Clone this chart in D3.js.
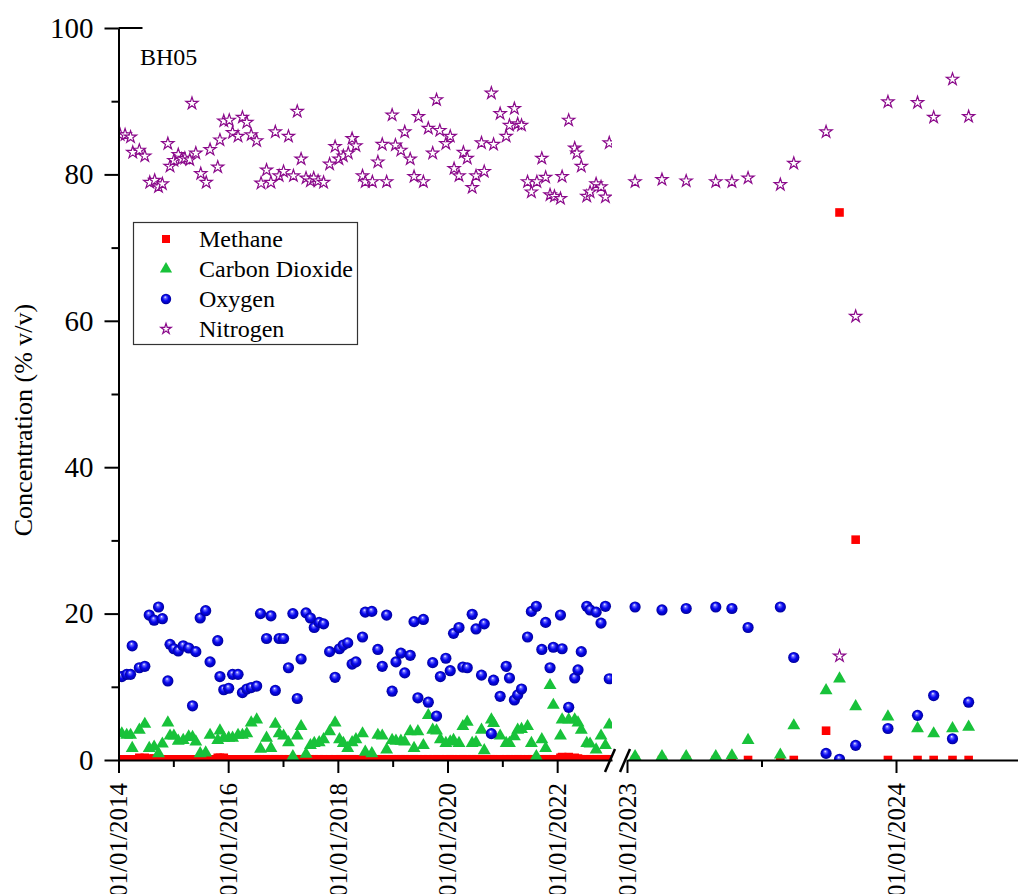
<!DOCTYPE html>
<html>
<head>
<meta charset="utf-8">
<script src="https://cdn.jsdelivr.net/npm/d3@7"></script>
<style>
  body { margin: 0; background: #fff; }
  text { font-family: "Liberation Serif", "Times New Roman", serif; fill: #000; }
</style>
</head>
<body>
<svg id="chart"></svg>
<script>
// sampling dates (decimal years) for the 2014-2022 part
var leftDates = [2014.06, 2014.15, 2014.22, 2014.25, 2014.38, 2014.48, 2014.56, 2014.65, 2014.73, 2014.80,
    2014.90, 2014.94, 2015.01, 2015.09, 2015.18, 2015.28, 2015.35, 2015.41, 2015.49, 2015.59,
    2015.67, 2015.81, 2015.85, 2015.92, 2016.01, 2016.08, 2016.18, 2016.26, 2016.34, 2016.42,
    2016.52, 2016.59, 2016.70, 2016.78, 2016.86, 2016.93, 2017.01, 2017.10, 2017.18, 2017.26,
    2017.33, 2017.42, 2017.50, 2017.57, 2017.66, 2017.74, 2017.85, 2017.95, 2018.03, 2018.10,
    2018.18, 2018.26, 2018.33, 2018.45, 2018.50, 2018.62, 2018.73, 2018.81, 2018.89, 2018.99,
    2019.06, 2019.15, 2019.22, 2019.32, 2019.39, 2019.46, 2019.56, 2019.65, 2019.73, 2019.80,
    2019.87, 2019.97, 2020.05, 2020.11, 2020.21, 2020.28, 2020.36, 2020.45, 2020.52, 2020.62,
    2020.67, 2020.80, 2020.84, 2020.96, 2021.07, 2021.13, 2021.22, 2021.28, 2021.35, 2021.46,
    2021.53, 2021.62, 2021.72, 2021.79, 2021.87, 2021.93, 2022.06, 2022.09, 2022.21, 2022.32,
    2022.38, 2022.44, 2022.54, 2022.60, 2022.71, 2022.80, 2022.88, 2022.95]

var methaneLeft = [0.1, 0.1, 0.1, 0.1, 0.3, 0.3, 0.2, 0.2, 0.1, 0.1,
    0.1, 0.1, 0.1, 0.1, 0.1, 0.1, 0.1, 0.1, 0.1, 0.1,
    0.1, 0.3, 0.3, 0.3, 0.1, 0.1, 0.1, 0.1, 0.1, 0.1,
    0.1, 0.1, 0.1, 0.1, 0.1, 0.1, 0.1, 0.1, 0.1, 0.1,
    0.1, 0.1, 0.1, 0.1, 0.1, 0.1, 0.1, 0.1, 0.1, 0.1,
    0.1, 0.1, 0.1, 0.1, 0.1, 0.1, 0.1, 0.1, 0.1, 0.1,
    0.1, 0.1, 0.1, 0.1, 0.1, 0.1, 0.1, 0.1, 0.1, 0.1,
    0.1, 0.1, 0.1, 0.1, 0.1, 0.1, 0.1, 0.1, 0.1, 0.1,
    0.1, 0.1, 0.1, 0.1, 0.1, 0.1, 0.1, 0.1, 0.1, 0.1,
    0.1, 0.1, 0.1, 0.1, 0.1, 0.1, 0.3, 0.4, 0.4, 0.3,
    0.2, 0.1, 0.1, 0.1, 0.1, 0.1, 0.1, 0.1]

var co2Left = [3.6, 3.4, 3.4, 1.6, 4.1, 4.9, 1.6, 1.8, 0.9, 2.2,
    5.1, 3.3, 3.3, 2.6, 2.7, 3.2, 3.1, 2.5, 0.9, 1.0,
    3.4, 2.7, 4.0, 3.0, 3.0, 3.0, 3.4, 3.4, 3.6, 5.1,
    5.5, 1.5, 3.0, 1.6, 4.9, 3.6, 3.3, 2.4, 0.5, 3.3,
    4.6, 0.8, 2.0, 2.3, 2.4, 2.8, 3.9, 5.1, 2.8, 2.3,
    1.6, 2.4, 2.8, 3.6, 1.1, 0.9, 3.4, 3.3, 1.4, 2.7,
    2.6, 2.6, 2.5, 3.9, 1.6, 3.9, 2.0, 6.1, 4.1, 4.0,
    2.8, 2.3, 2.5, 2.7, 2.3, 4.6, 5.2, 2.3, 2.4, 4.1,
    1.3, 5.5, 5.0, 3.3, 2.3, 2.3, 3.2, 4.1, 4.2, 4.6,
    2.3, 0.5, 2.8, 1.6, 10.2, 7.5, 3.3, 5.5, 5.5, 5.5,
    5.1, 4.1, 2.3, 2.2, 1.4, 3.3, 2.0, 4.8]

var oxygenLeft = [11.4, 11.7, 11.7, 15.6, 12.6, 12.8, 19.8, 19.1, 20.9, 19.3,
    10.8, 15.8, 15.2, 14.9, 15.6, 15.3, 7.4, 14.8, 19.4, 20.4,
    13.4, 16.3, 11.4, 9.6, 9.8, 11.7, 11.7, 9.2, 9.7, 9.9,
    10.1, 20.0, 16.6, 19.7, 9.5, 16.6, 16.6, 12.6, 20.0, 8.4,
    13.8, 20.1, 19.4, 18.1, 18.8, 18.6, 14.8, 11.3, 15.2, 15.7,
    16.0, 13.1, 13.4, 16.8, 20.2, 20.3, 15.1, 12.8, 19.8, 9.4,
    13.4, 14.6, 11.9, 14.3, 18.9, 8.5, 19.2, 7.9, 13.3, 6.0,
    11.4, 13.9, 12.2, 17.3, 18.1, 12.7, 12.6, 19.9, 17.9, 11.6,
    18.6, 3.6, 10.9, 8.7, 12.8, 11.2, 8.2, 8.9, 9.7, 16.8,
    20.3, 21.0, 15.1, 18.8, 12.6, 15.4, 19.8, 15.2, 7.2, 11.2,
    12.3, 14.8, 21.0, 20.5, 20.2, 18.7, 21.0, 11.1]

var nitrogenLeftDates = [2014.03, 2014.12, 2014.22, 2014.26, 2014.38, 2014.48, 2014.57, 2014.66, 2014.73, 2014.80,
    2014.90, 2014.94, 2015.01, 2015.09, 2015.15, 2015.21, 2015.30, 2015.34, 2015.41, 2015.50,
    2015.60, 2015.67, 2015.81, 2015.85, 2015.92, 2016.02, 2016.08, 2016.18, 2016.26, 2016.34,
    2016.42, 2016.52, 2016.60, 2016.70, 2016.78, 2016.86, 2016.93, 2017.01, 2017.10, 2017.19,
    2017.26, 2017.33, 2017.42, 2017.50, 2017.56, 2017.64, 2017.74, 2017.85, 2017.95, 2018.02,
    2018.10, 2018.19, 2018.26, 2018.33, 2018.45, 2018.50, 2018.63, 2018.73, 2018.81, 2018.89,
    2018.99, 2019.05, 2019.15, 2019.22, 2019.32, 2019.39, 2019.47, 2019.56, 2019.65, 2019.73,
    2019.80, 2019.86, 2019.97, 2020.05, 2020.12, 2020.21, 2020.29, 2020.36, 2020.45, 2020.52,
    2020.62, 2020.67, 2020.80, 2020.84, 2020.96, 2021.07, 2021.13, 2021.22, 2021.28, 2021.35,
    2021.46, 2021.53, 2021.63, 2021.72, 2021.79, 2021.87, 2021.95, 2022.06, 2022.09, 2022.21,
    2022.32, 2022.36, 2022.44, 2022.54, 2022.60, 2022.71, 2022.80, 2022.88, 2022.95]

var nitrogenLeft = [85.4, 85.4, 85.1, 83.0, 83.3, 82.5, 78.9, 79.2, 78.3, 78.7,
    84.2, 81.1, 81.9, 82.7, 82.1, 82.2, 82.0, 89.7, 82.9, 80.1,
    78.9, 83.4, 81.0, 84.7, 87.3, 87.4, 85.7, 85.2, 87.8, 87.1,
    85.4, 84.6, 78.8, 80.6, 78.9, 85.8, 79.8, 80.4, 85.2, 79.8,
    88.6, 82.1, 79.5, 79.1, 79.5, 79.1, 78.9, 81.4, 83.8, 82.1,
    82.5, 82.9, 84.9, 83.9, 79.8, 79.0, 79.0, 81.7, 84.1, 79.0,
    88.1, 84.0, 83.3, 85.8, 82.1, 79.7, 87.9, 79.0, 86.3, 82.9,
    90.2, 86.0, 84.2, 85.2, 80.8, 79.8, 83.0, 82.2, 78.2, 79.8,
    84.3, 80.4, 91.1, 84.1, 88.3, 85.2, 86.7, 89.0, 86.9, 86.7,
    79.0, 77.6, 79.0, 82.2, 79.6, 77.2, 77.0, 76.7, 79.7, 87.4,
    83.6, 82.9, 81.1, 77.0, 77.6, 78.7, 78.3, 76.9, 84.3]

// 2023-2024 part
var rightDates = [2023.03, 2023.13, 2023.22, 2023.33, 2023.39, 2023.45, 2023.57, 2023.62,
    2023.74, 2023.79, 2023.85, 2023.97, 2024.08, 2024.14, 2024.21, 2024.27]
var methaneRight = [0, 0, 0, 0, 0, 0, 0, 0, 4.0, 74.8, 30.1, 0, 0, 0, 0, 0]
var co2Right = [0.5, 0.5, 0.5, 0.5, 0.6, 2.7, 0.7, 4.7, 9.5, 11.1, 7.3, 5.9, 4.3, 3.6, 4.3, 4.5]
var oxygenRight = [20.9, 20.5, 20.7, 20.9, 20.7, 18.1, 20.9, 14.0, 0.9, 0.1, 2.0, 4.3, 6.1, 8.8, 2.9, 7.9]
var nitrogenRight = [79.0, 79.3, 79.1, 79.0, 79.0, 79.5, 78.6, 81.5, 85.8, 14.2, 60.6, 89.9, 89.8, 87.8, 93.0, 87.9]

var yTicks = [0, 20, 40, 60, 80, 100]
var yMinorTicks = [10, 30, 50, 70, 90]
var leftYearTicks = [2014, 2016, 2018, 2020, 2022]
var leftMinorTicks = [2015, 2017, 2019, 2021]
var rightYearTicks = [2023, 2024]
var rightMinorTicks = [2023.5]
var seriesNames = ["Methane", "Carbon Dioxide", "Oxygen", "Nitrogen"]

var dimensions = {
    width: 1018,
    height: 894,
    left: 118.5,
    breakLeft: 612,
    breakRight: 627,
    right: 1018,
    top: 28,
    bottom: 760
}

var svg = d3.select("#chart")
    .attr("width", dimensions.width)
    .attr("height", dimensions.height)

var xLeft = d3.scaleLinear()
    .domain([2014, 2023])
    .range([dimensions.left, dimensions.breakLeft])
var xRight = d3.scaleLinear()
    .domain([2023, 2024.4535])
    .range([dimensions.breakRight, dimensions.right])
var yScale = d3.scaleLinear()
    .domain([0, 100])
    .range([dimensions.bottom, dimensions.top])

var defs = svg.append("defs")
var grad = defs.append("radialGradient")
    .attr("id", "ball")
    .attr("cx", "50%").attr("cy", "50%").attr("r", "50%")
    .attr("fx", "42%").attr("fy", "30%")
grad.append("stop").attr("offset", "0%").attr("stop-color", "#ffffff")
grad.append("stop").attr("offset", "22%").attr("stop-color", "#6a6aff")
grad.append("stop").attr("offset", "55%").attr("stop-color", "#0808f0")
grad.append("stop").attr("offset", "100%").attr("stop-color", "#00009a")

defs.append("clipPath").attr("id", "clipLeft")
    .append("rect")
    .attr("x", dimensions.left).attr("y", dimensions.top)
    .attr("width", dimensions.breakLeft - dimensions.left)
    .attr("height", dimensions.bottom - dimensions.top)
defs.append("clipPath").attr("id", "clipRight")
    .append("rect")
    .attr("x", dimensions.breakRight).attr("y", dimensions.top)
    .attr("width", dimensions.right - dimensions.breakRight)
    .attr("height", dimensions.bottom - dimensions.top)

var square = d3.symbol().type(d3.symbolSquare).size(74)
var triangle = d3.symbol().type(d3.symbolTriangle).size(72)
var star = d3.symbol().type(d3.symbolStar).size(46)

function drawSeries(g, xScale, dates, values, kind) {
    var pts = d3.zip(dates, values)
    if (kind == "oxygen") {
        g.append("g").selectAll("circle")
            .data(pts)
            .enter()
            .append("circle")
            .attr("cx", d => xScale(d[0]))
            .attr("cy", d => yScale(d[1]))
            .attr("r", 5.6)
            .attr("fill", "url(#ball)")
        return
    }
    var gen = kind == "methane" ? square : kind == "co2" ? triangle : star
    g.append("g").selectAll("path")
        .data(pts)
        .enter()
        .append("path")
        .attr("d", gen)
        .attr("transform", d => `translate(${xScale(d[0])},${yScale(d[1])})`)
        .attr("fill", kind == "methane" ? "#ff0000" : kind == "co2" ? "#18c23a" : "#ffffff")
        .attr("stroke", kind == "nitrogen" ? "#8b0a8b" : "none")
        .attr("stroke-width", 1.2)
}

var leftG = svg.append("g").attr("clip-path", "url(#clipLeft)")
drawSeries(leftG, xLeft, leftDates, methaneLeft, "methane")
drawSeries(leftG, xLeft, leftDates, co2Left, "co2")
drawSeries(leftG, xLeft, leftDates, oxygenLeft, "oxygen")
drawSeries(leftG, xLeft, nitrogenLeftDates, nitrogenLeft, "nitrogen")

var rightG = svg.append("g").attr("clip-path", "url(#clipRight)")
drawSeries(rightG, xRight, rightDates, methaneRight, "methane")
drawSeries(rightG, xRight, rightDates, co2Right, "co2")
drawSeries(rightG, xRight, rightDates, oxygenRight, "oxygen")
drawSeries(rightG, xRight, rightDates, nitrogenRight, "nitrogen")

// axes
function styleAxis(g) {
    g.selectAll("path, line").attr("stroke", "#000").attr("stroke-width", 2)
}

var yAxis = svg.append("g")
    .attr("transform", `translate(${dimensions.left},0)`)
    .call(d3.axisLeft(yScale).tickValues(yTicks).tickSize(14).tickSizeOuter(0).tickPadding(11))
yAxis.selectAll("text").style("font-size", "29px").style("font-family", "Liberation Serif")
styleAxis(yAxis)
svg.append("g")
    .attr("transform", `translate(${dimensions.left},0)`)
    .call(d3.axisLeft(yScale).tickValues(yMinorTicks).tickSize(7).tickFormat(""))
    .call(g => g.select(".domain").remove())
    .call(styleAxis)

// short cap line at the top of the y axis
svg.append("line")
    .attr("x1", dimensions.left).attr("x2", dimensions.left + 24)
    .attr("y1", yScale(100)).attr("y2", yScale(100))
    .attr("stroke", "#000").attr("stroke-width", 2)

function xAxis(scale, major, minor) {
    var ax = svg.append("g")
        .attr("transform", `translate(0,${dimensions.bottom})`)
        .call(d3.axisBottom(scale).tickValues(major).tickSize(13).tickSizeOuter(0)
            .tickFormat(d => "01/01/" + d))
    ax.selectAll("text")
        .style("font-size", "25px")
        .style("font-family", "Liberation Serif")
        .style("text-anchor", "end")
        .attr("transform", "rotate(-90)")
        .attr("x", -23)
        .attr("y", 0)
        .attr("dy", "0.33em")
    styleAxis(ax)
    svg.append("g")
        .attr("transform", `translate(0,${dimensions.bottom})`)
        .call(d3.axisBottom(scale).tickValues(minor).tickSize(7).tickFormat(""))
        .call(g => g.select(".domain").remove())
        .call(styleAxis)
}
xAxis(xLeft, leftYearTicks, leftMinorTicks)
xAxis(xRight, rightYearTicks, rightMinorTicks)

// axis break marks
var breaks = [xLeft(2023) - 2, xRight(2023) - 2]
svg.append("g").selectAll("line")
    .data(breaks)
    .enter()
    .append("line")
    .attr("x1", d => d - 5).attr("y1", dimensions.bottom + 12)
    .attr("x2", d => d + 5).attr("y2", dimensions.bottom - 11)
    .attr("stroke", "#000")
    .attr("stroke-width", 2.5)

// axis title
svg.append("text")
    .attr("transform", "translate(32,420)rotate(-90)")
    .attr("text-anchor", "middle")
    .style("font-size", "26px")
    .text("Concentration (% v/v)")

svg.append("text")
    .attr("x", 140)
    .attr("y", 65)
    .style("font-size", "24px")
    .text("BH05")

// legend
var legend = svg.append("g")
legend.append("rect")
    .attr("x", 133.5).attr("y", 222.5)
    .attr("width", 224).attr("height", 122)
    .attr("fill", "#fff")
    .attr("stroke", "#333")
    .attr("stroke-width", 1.2)

var legendRows = legend.selectAll("g.row")
    .data(seriesNames)
    .enter()
    .append("g")
    .attr("class", "row")
    .attr("transform", (d, i) => `translate(166,${239 + i * 30})`)

legendRows.each(function (d, i) {
    var row = d3.select(this)
    if (i == 0) row.append("path").attr("d", d3.symbol().type(d3.symbolSquare).size(64)).attr("fill", "#ff0000")
    if (i == 1) row.append("path").attr("d", d3.symbol().type(d3.symbolTriangle).size(64)).attr("fill", "#18c23a")
    if (i == 2) row.append("circle").attr("r", 5.2).attr("fill", "url(#ball)")
    if (i == 3) row.append("path").attr("d", d3.symbol().type(d3.symbolStar).size(34))
        .attr("fill", "#fff").attr("stroke", "#8b0a8b").attr("stroke-width", 1.2)
    row.append("text")
        .attr("x", 33)
        .attr("y", 8)
        .style("font-size", "24px")
        .text(d)
})
</script>
</body>
</html>
